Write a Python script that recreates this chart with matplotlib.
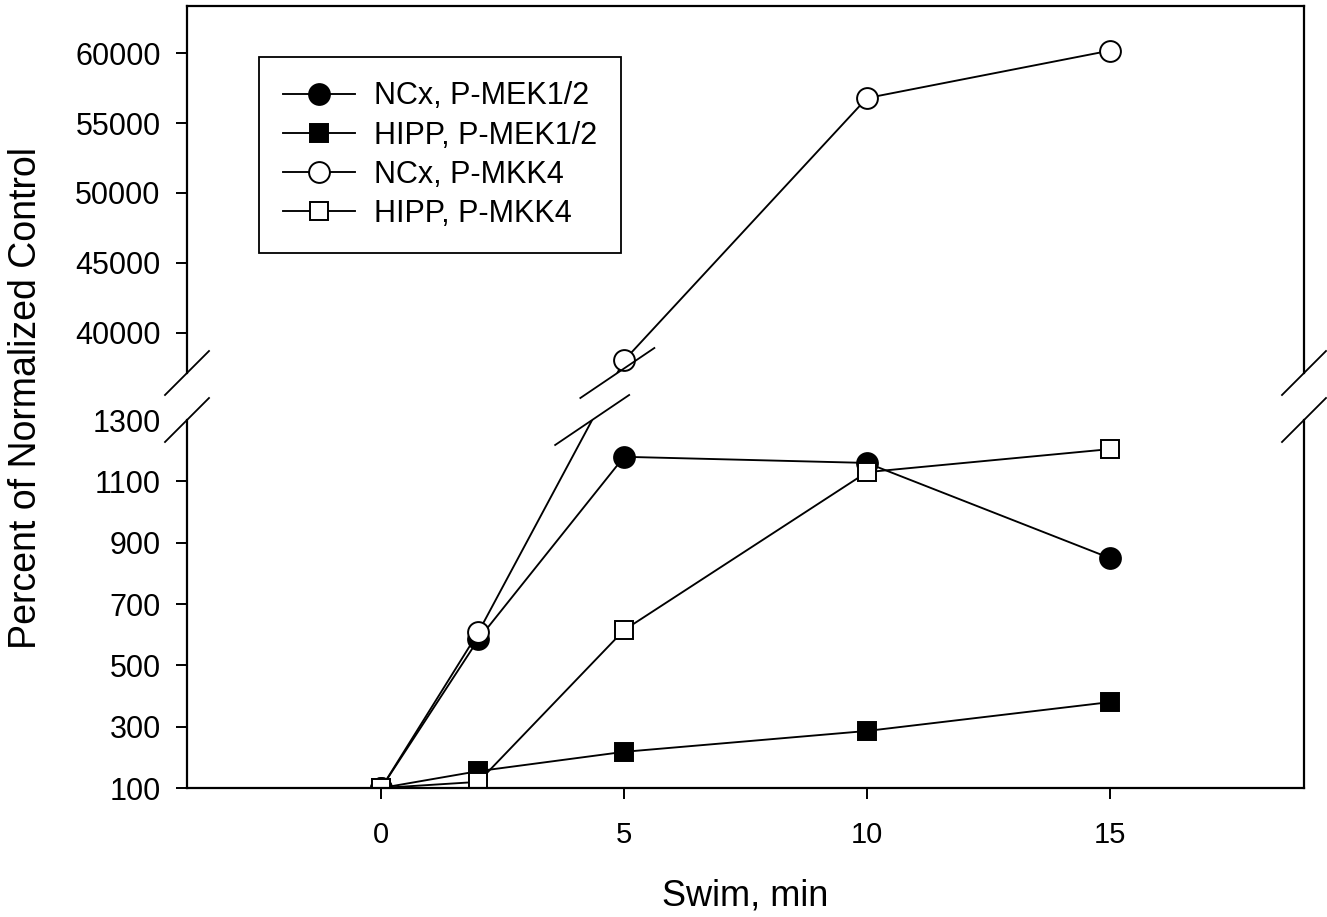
import matplotlib
matplotlib.use('Agg')
import matplotlib.pyplot as plt
import matplotlib.transforms as mtransforms
import numpy as np

matplotlib.rc('font', family='Liberation Sans')

# Data (percent of normalized control)
swim_min = [0, 2, 5, 10, 15]
ncx_mek = [100, 585, 1180, 1160, 850]
hipp_mek = [100, 155, 218, 286, 380]
ncx_mkk4 = [100, 608, 38000, 56800, 60200]
hipp_mkk4 = [100, 120, 615, 1130, 1205]

low_lim = (100, 1300)
up_lim = (37100, 63400)
low_ticks = [100, 300, 500, 700, 900, 1100, 1300]
up_ticks = [40000, 45000, 50000, 55000, 60000]
x_ticks = [0, 5, 10, 15]

W, H = 1327, 917
fig = plt.figure(figsize=(W/100, H/100), dpi=100)
left, width = 187/W, (1304-187)/W
ax_low = fig.add_axes([left, (H-788)/H, width, (788-420)/H])
ax_up = fig.add_axes([left, (H-373)/H, width, (373-6)/H])

lw = 1.35
style = dict(color='k', lw=lw, mec='k', mew=1.4)

# Lower panel
l1, = ax_low.plot(swim_min, ncx_mek, marker='o', ms=15, mfc='k', label='NCx, P-MEK1/2', **style)
l2, = ax_low.plot(swim_min, hipp_mek, marker='s', ms=13, mfc='k', label='HIPP, P-MEK1/2', **style)
ax_low.plot(swim_min[:2], ncx_mkk4[:2], marker='o', ms=15, mfc='white', **style)
l4, = ax_low.plot(swim_min, hipp_mkk4, marker='s', ms=13, mfc='white', label='HIPP, P-MKK4', **style)

# Upper panel
l3, = ax_up.plot(swim_min[2:], ncx_mkk4[2:], marker='o', ms=15, mfc='white', label='NCx, P-MKK4', **style)

for ax, lim in ((ax_low, low_lim), (ax_up, up_lim)):
    ax.set_xlim(-4, 19)
    ax.set_ylim(*lim)
    for s in ax.spines.values():
        s.set_linewidth(1.6)
    ax.tick_params(direction='out', length=8, width=1.4, labelsize=22, pad=11)

ax_low.spines['top'].set_visible(False)
ax_up.spines['bottom'].set_visible(False)
ax_low.set_yticks(low_ticks)
ax_low.yaxis.get_major_ticks()[-1].tick1line.set_visible(False)
ax_up.set_yticks(up_ticks)
ax_low.set_xticks(x_ticks)
ax_low.tick_params(axis='x', labelsize=21, pad=16)
ax_up.set_xticks([])

# segment of NCx P-MKK4 crossing the break, straight on screen
to_fig = fig.transFigure.inverted()
p1 = to_fig.transform(ax_low.transData.transform((swim_min[1], ncx_mkk4[1])))
p2 = to_fig.transform(ax_up.transData.transform((swim_min[2], ncx_mkk4[2])))
for ax in (ax_low, ax_up):
    seg, = ax.plot([p1[0], p2[0]], [p1[1], p2[1]], color='k', lw=lw,
                   transform=fig.transFigure, zorder=1.9)
    seg.set_clip_path(ax.patch)

# break marks
def slash(xf, yf, hx, hy):
    tr = fig.dpi_scale_trans + mtransforms.ScaledTranslation(xf, yf, fig.transFigure)
    fig.add_artist(matplotlib.lines.Line2D([-hx, hx], [-hy, hy], color='k', lw=1.3, transform=tr))

low_top = ax_low.get_position().y1
up_bot = ax_up.get_position().y0
for yf in (low_top, up_bot):
    slash(left, yf, 0.22, 0.22)
    slash(left + width, yf, 0.22, 0.22)
    t = (yf - p1[1]) / (p2[1] - p1[1])
    slash(p1[0] + t*(p2[0]-p1[0]), yf, 0.37, 0.25)

leg = ax_up.legend(handles=[l1, l2, l3, l4], loc='upper left', bbox_to_anchor=(259/W, 1-57/H),
                   bbox_transform=fig.transFigure, borderaxespad=0, fontsize=22,
                   fancybox=False, framealpha=1, edgecolor='k', handlelength=2.35,
                   handletextpad=0.6, borderpad=0.8, labelspacing=0.3)
leg.get_frame().set_linewidth(1.3)

fig.text(745.5/W, 1-906/H, 'Swim, min', ha='center', va='baseline', fontsize=26)
fig.text(26/W, 1-398/H, 'Percent of Normalized Control', ha='center', va='center',
         rotation=90, fontsize=27)

fig.savefig('out.png', dpi=100)
